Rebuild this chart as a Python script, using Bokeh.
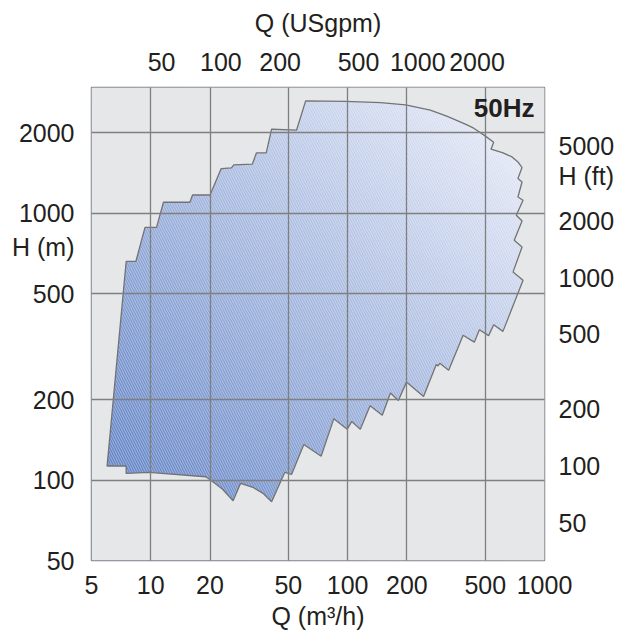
import numpy as np
from bokeh.plotting import figure
from bokeh.models import Range1d, LogAxis, LogScale, FixedTicker, PrintfTickFormatter, Label
from bokeh.embed import file_html
from bokeh.resources import INLINE

# ---------------- data ----------------
x_ticks_m3h = [5, 10, 20, 50, 100, 200, 500, 1000]
x_ticks_gpm = [50, 100, 200, 500, 1000, 2000]
y_ticks_m = [50, 100, 200, 500, 1000, 2000]
y_ticks_ft = [50, 100, 200, 500, 1000, 2000, 5000]

# outline of the 50 Hz performance range, Q in m3/h, H in m (clockwise)
q_outline = [6.0, 7.5, 8.4, 9.35, 10.7, 11.6, 15.8, 16.3, 20.0, 22.8,
             25.7, 26.4, 32.8, 34.4, 38.6, 41.1, 55.0, 61.2, 97.5, 147,
             197, 263, 321, 396, 437, 491, 552, 535, 611, 684,
             736, 769, 733, 769, 733, 778, 719, 769, 702, 769,
             692, 778, 615, 552, 520, 467, 440, 386, 326, 294,
             288, 282, 243, 199, 181, 165, 150, 130, 116, 105,
             99.5, 85.1, 73.4, 59.9, 51.9, 48.0, 41.1, 37.4, 33.3, 28.6,
             26.2, 23.1, 19.8, 19.0, 9.8, 7.5, 7.5]
h_outline = [113, 660, 660, 886, 886, 1100, 1100, 1171, 1171, 1471,
             1479, 1518, 1527, 1683, 1683, 2066, 2048, 2638, 2624, 2597,
             2548, 2434, 2306, 2157, 2084, 1967, 1847, 1738, 1687, 1626,
             1553, 1484, 1349, 1310, 1151, 1119, 983, 935, 792, 748,
             602, 561, 361, 382, 348, 366, 329, 349, 258, 274,
             268, 271, 206, 233, 199, 212, 175, 190, 155, 166,
             155, 170, 123, 136, 105, 107, 83, 89, 93.7, 97.3,
             83.7, 92.7, 101, 103, 107, 106, 113]

freq_label = "50Hz"
x_title = "Q (m³/h)"
x2_title = "Q (USgpm)"
y_title = "H (m)"
y2_title = "H (ft)"

Q_MIN, Q_MAX = 5, 1000
H_MIN, H_MAX = 50, 2960
GPM_PER_M3H = 4.403
FT_MIN, FT_MAX = 31.5, 10200
Y_TITLE_AT = 745      # H (m) value where the left title sits between ticks
Y2_TITLE_AT = 3445    # H (ft) value where the right title sits between ticks

FONT = "Liberation Sans"
FSIZE = "25px"
TXT = "#231f20"
BG = "#e6e7e9"
GRID = "#7f7f7f"

p = figure(width=620, height=632, x_axis_type="log", y_axis_type="log",
           x_range=Range1d(Q_MIN, Q_MAX), y_range=Range1d(H_MIN, H_MAX),
           output_backend="svg", toolbar_location=None,
           min_border_left=91, min_border_right=76, min_border_top=87, min_border_bottom=72)
p.extra_x_ranges = {"gpm": Range1d(Q_MIN * GPM_PER_M3H, Q_MAX * GPM_PER_M3H)}
p.extra_x_scales = {"gpm": LogScale()}
p.extra_y_ranges = {"ft": Range1d(FT_MIN, FT_MAX)}
p.extra_y_scales = {"ft": LogScale()}

p.background_fill_color = BG
p.border_fill_color = "white"
p.outline_line_color = GRID
p.outline_line_width = 1.5


def style_axis(ax, ticks, standoff):
    ax.ticker = FixedTicker(ticks=ticks, minor_ticks=[])
    ax.formatter = PrintfTickFormatter(format="%d")
    ax.axis_line_color = None
    ax.major_tick_line_color = None
    ax.minor_tick_line_color = None
    ax.major_tick_out = 0
    ax.major_tick_in = 0
    ax.major_label_standoff = standoff
    ax.major_label_text_font = FONT
    ax.major_label_text_font_size = FSIZE
    ax.major_label_text_color = TXT
    ax.axis_label_text_font = FONT
    ax.axis_label_text_font_size = FSIZE
    ax.axis_label_text_font_style = "normal"
    ax.axis_label_text_color = TXT


bottom_ax = p.xaxis[0]
style_axis(bottom_ax, x_ticks_m3h, 15)
bottom_ax.axis_label = x_title
bottom_ax.axis_label_standoff = 5

left_ax = p.yaxis[0]
style_axis(left_ax, y_ticks_m + [Y_TITLE_AT], 17)
left_ax.major_label_overrides = {Y_TITLE_AT: y_title}

top_ax = LogAxis(x_range_name="gpm")
style_axis(top_ax, x_ticks_gpm, 17)
top_ax.axis_label = x2_title
top_ax.axis_label_standoff = 13
p.add_layout(top_ax, "above")

right_ax = LogAxis(y_range_name="ft")
style_axis(right_ax, y_ticks_ft + [Y2_TITLE_AT], 14)
right_ax.major_label_overrides = {Y2_TITLE_AT: y2_title}
p.add_layout(right_ax, "right")

p.xgrid.ticker = FixedTicker(ticks=x_ticks_m3h, minor_ticks=[])
p.ygrid.ticker = FixedTicker(ticks=y_ticks_m, minor_ticks=[])
for g in (p.xgrid[0], p.ygrid[0]):
    g.grid_line_color = GRID
    g.grid_line_width = 1.3
    g.level = "guide"

# gradient fill (lower-left dark blue -> upper-right pale blue)
ny, nx = 240, 240
fx = np.linspace(0, 1, nx)[None, :]
fy = np.linspace(0, 1, ny)[:, None]
t = np.clip(((fx + fy) / 2 - 0.1) / 0.8, 0, 1)
c0 = np.array([96, 130, 197], dtype=float)
c1 = np.array([226, 231, 246], dtype=float)
rgb = c0[None, None, :] + (c1 - c0)[None, None, :] * t[..., None]
img = np.empty((ny, nx), dtype=np.uint32)
view = img.view(dtype=np.uint8).reshape((ny, nx, 4))
view[..., :3] = rgb.astype(np.uint8)
view[..., 3] = 255
p.image_rgba(image=[img], x=Q_MIN, y=H_MIN, dw=Q_MAX - Q_MIN, dh=H_MAX - H_MIN)

# mask everything outside the range outline with the background colour
frame_x = [Q_MIN, Q_MAX, Q_MAX, Q_MIN]
frame_y = [H_MIN, H_MIN, H_MAX, H_MAX]
p.multi_polygons(xs=[[[frame_x, q_outline]]], ys=[[[frame_y, h_outline]]],
                 fill_color=BG, line_color=None)

# hatch + outline
p.patch(q_outline, h_outline, fill_alpha=0, hatch_pattern="\\", hatch_color="white",
        hatch_alpha=0.38, hatch_scale=5, hatch_weight=1,
        line_color="#737373", line_width=1.3)

p.add_layout(Label(x=Q_MAX, y=H_MAX, x_offset=-10, y_offset=-20, text=freq_label,
                   text_align="right", text_baseline="middle", text_font=FONT,
                   text_font_size="26px", text_font_style="bold", text_color=TXT))

open("out.html", "w").write(file_html(p, INLINE))
